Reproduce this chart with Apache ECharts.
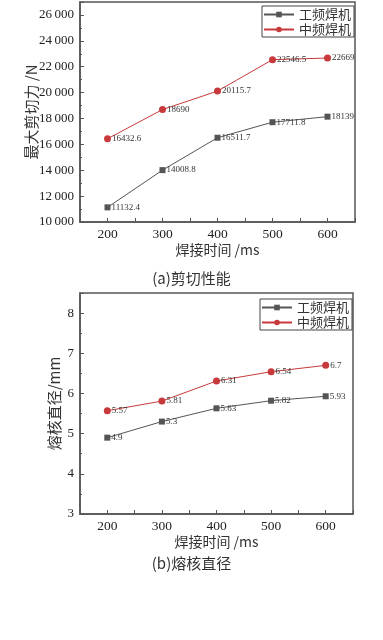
<!DOCTYPE html>
<html><head><meta charset="utf-8">
<script src="https://cdn.jsdelivr.net/npm/echarts@6/dist/echarts.min.js"></script>
<style>html,body{margin:0;padding:0;background:#fff}#c{width:383px;height:640px}</style>
</head><body><div id="c"></div>
<script>
const times = [200, 300, 400, 500, 600];
const seriesNames = ['工频焊机', '中频焊机'];
const shearGP = [11132.4, 14008.8, 16511.7, 17711.8, 18139];
const shearMF = [16432.6, 18690, 20115.7, 22546.5, 22669];
const nuggetGP = [4.9, 5.3, 5.63, 5.82, 5.93];
const nuggetMF = [5.57, 5.81, 6.31, 6.54, 6.7];
const captions = ['(a)剪切性能', '(b)熔核直径'];
const yNames = ['最大剪切力 /N', '熔核直径/mm'];
const xName = '焊接时间 /ms';

const serif = 'Liberation Serif, Noto Sans CJK SC';
const cjk = 'Noto Sans CJK SC';
const axisCol = '#555';
const grayC = '#555555', redC = '#c8393b';

function pair(vals) { return times.map((t, i) => [t, vals[i]]); }
function xAxis(gi) {
  return {
    gridIndex: gi, type: 'value', min: 150, max: 650, interval: 50,
    name: xName, nameLocation: 'middle', nameGap: 20,
    nameTextStyle: { fontFamily: cjk, fontSize: 14, color: '#333' },
    axisLine: { show: true, onZero: false, lineStyle: { color: axisCol, width: 1.5 } },
    axisTick: { show: true, inside: true, length: 4, lineStyle: { color: axisCol } },
    axisLabel: { fontFamily: serif, fontSize: 13.5, color: '#222', margin: 6,
      formatter: v => (v % 100 === 0 && v >= 200 && v <= 600) ? String(v) : '' },
    splitLine: { show: false }
  };
}
function yAxis(gi, min, max, interval, name, fmt, gap) {
  return {
    gridIndex: gi, type: 'value', min, max, interval,
    name, nameLocation: 'middle', nameGap: gap, nameMoveOverlap: false,
    nameTextStyle: { fontFamily: cjk, fontSize: 15, color: '#333' },
    axisLine: { show: true, lineStyle: { color: axisCol, width: 1.5 } },
    axisTick: { show: true, inside: true, length: 4, lineStyle: { color: axisCol } },
    minorTick: { show: true, splitNumber: 2, length: 2, lineStyle: { color: axisCol } },
    axisLabel: { fontFamily: serif, fontSize: 13, color: '#222', margin: 6, showMaxLabel: false, formatter: fmt },
    splitLine: { show: false }
  };
}
function lineSeries(name, xi, data, color, symbol, size) {
  return {
    name, type: 'line', xAxisIndex: xi, yAxisIndex: xi, data,
    symbol, symbolSize: size,
    lineStyle: { color, width: 1 }, itemStyle: { color },
    label: { show: true, position: 'right', distance: 1, fontFamily: 'Liberation Serif', fontSize: 9, color: '#333',
      formatter: p => String(p.value[1]) },
    animation: false
  };
}
function legend(left, top) {
  return {
    left, top, orient: 'vertical', data: seriesNames,
    itemWidth: 30, itemHeight: 7, itemGap: 2,
    padding: [2, 3, 1, 1], borderColor: '#444', borderWidth: 1,
    textStyle: { fontFamily: cjk, fontSize: 13, color: '#333', padding: [0, 0, 0, 0] }
  };
}
const chart = echarts.init(document.getElementById('c'), null, { renderer: 'canvas' });
chart.setOption({
  backgroundColor: '#fff',
  animation: false,
  title: [
    { text: captions[0], left: 'center', top: 266, textStyle: { fontFamily: cjk, fontSize: 15, fontWeight: 'normal', color: '#333' } },
    { text: captions[1], left: 'center', top: 551, textStyle: { fontFamily: cjk, fontSize: 15, fontWeight: 'normal', color: '#333' } }
  ],
  legend: [legend(262, 6), legend(260, 299)],
  grid: [
    { left: 80, top: 2, width: 275, height: 220, show: true, borderColor: axisCol, borderWidth: 1.5 },
    { left: 80, top: 293, width: 273, height: 221, show: true, borderColor: axisCol, borderWidth: 1.5 }
  ],
  xAxis: [xAxis(0), xAxis(1)],
  yAxis: [
    yAxis(0, 10000, 27000, 2000, yNames[0], v => String(v).replace(/(\d{2})(\d{3})$/, '$1\u2009$2'), 41),
    yAxis(1, 3, 8.5, 1, yNames[1], v => String(v), 18)
  ],
  series: [
    lineSeries(seriesNames[0], 0, pair(shearGP), grayC, 'rect', 6),
    lineSeries(seriesNames[1], 0, pair(shearMF), redC, 'circle', 7),
    lineSeries(seriesNames[0], 1, pair(nuggetGP), grayC, 'rect', 6),
    lineSeries(seriesNames[1], 1, pair(nuggetMF), redC, 'circle', 7)
  ]
});
</script></body></html>
